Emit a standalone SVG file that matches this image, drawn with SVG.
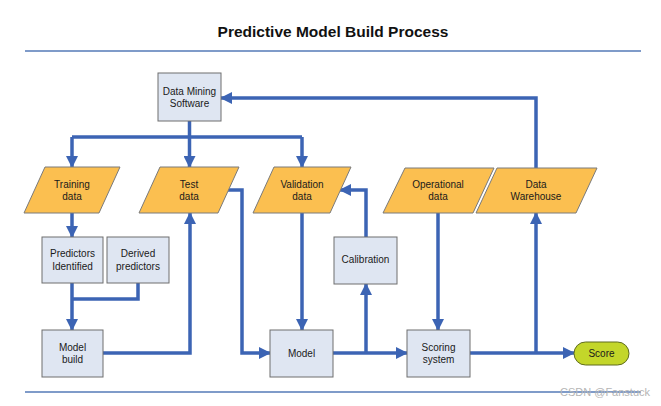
<svg xmlns="http://www.w3.org/2000/svg" width="661" height="406" viewBox="0 0 661 406">
  <defs>
    <style>
      .t{font-family:"Liberation Sans",Arial,sans-serif;font-size:10px;fill:#1a1a1a;text-anchor:middle}
      .title{font-family:"Liberation Sans",Arial,sans-serif;font-size:15.5px;font-weight:bold;fill:#111;text-anchor:middle}
      .box{fill:#dfe6f2;stroke:#6e6e6e;stroke-width:1}
      .para{fill:#fbbf50;stroke:#7a7a7a;stroke-width:1}
      .rule{stroke:#7f9bc9;stroke-width:2;fill:none}
      .c{fill:none;stroke:#3c64b4;stroke-width:3.5;stroke-linejoin:miter}
      .wm{font-family:"Liberation Sans",Arial,sans-serif;font-size:11px;fill:#b5b5b5}
    </style>
    <marker id="ah" markerUnits="userSpaceOnUse" markerWidth="12" markerHeight="12" viewBox="0 0 12 12" refX="11" refY="6" orient="auto">
      <path d="M0,0 L12,6 L0,12 Z" fill="#3c64b4"/>
    </marker>
  </defs>
  <rect width="661" height="406" fill="#ffffff"/>
  <text class="title" x="333" y="37">Predictive Model Build Process</text>
  <line class="rule" x1="25" y1="51" x2="641" y2="51"/>
  <line class="rule" x1="25" y1="392" x2="641" y2="392"/>

  <g id="connectors">
    <path class="c" d="M189.5,121 V137"/>
    <path class="c" d="M72,137 H302"/>
    <path class="c" d="M72,137 V167" marker-end="url(#ah)"/>
    <path class="c" d="M189.5,137 V167" marker-end="url(#ah)"/>
    <path class="c" d="M302,137 V167" marker-end="url(#ah)"/>
    <path class="c" d="M72,213 V237" marker-end="url(#ah)"/>
    <path class="c" d="M72,283 V330" marker-end="url(#ah)"/>
    <path class="c" d="M138,283 V299 H72"/>
    <path class="c" d="M103,353 H190 V213" marker-end="url(#ah)"/>
    <path class="c" d="M228,190 H242 V353 H270" marker-end="url(#ah)"/>
    <path class="c" d="M302,213 V330" marker-end="url(#ah)"/>
    <path class="c" d="M333,353 H407" marker-end="url(#ah)"/>
    <path class="c" d="M366,353 V284" marker-end="url(#ah)"/>
    <path class="c" d="M366,237 V190 H340" marker-end="url(#ah)"/>
    <path class="c" d="M438,213 V330" marker-end="url(#ah)"/>
    <path class="c" d="M470,353 H574" marker-end="url(#ah)"/>
    <path class="c" d="M536,353 V213" marker-end="url(#ah)"/>
    <path class="c" d="M536,168 V98 H221" marker-end="url(#ah)"/>
  </g>

  <g id="data-mining-software">
    <rect class="box" x="158" y="73" width="63" height="48"/>
    <text class="t" x="189.5" y="95">Data Mining</text>
    <text class="t" x="189.5" y="107">Software</text>
  </g>
  <g id="training-data">
    <polygon class="para" points="45,167 120,167 99,213 24,213"/>
    <text class="t" x="72" y="188">Training</text>
    <text class="t" x="72" y="200">data</text>
  </g>
  <g id="test-data">
    <polygon class="para" points="160,167 239,167 218,213 139,213"/>
    <text class="t" x="189" y="188">Test</text>
    <text class="t" x="189" y="200">data</text>
  </g>
  <g id="validation-data">
    <polygon class="para" points="274,167 351,167 330,213 253,213"/>
    <text class="t" x="302" y="188">Validation</text>
    <text class="t" x="302" y="200">data</text>
  </g>
  <g id="operational-data">
    <polygon class="para" points="405,168 494,168 473,213 383,213"/>
    <text class="t" x="438" y="188">Operational</text>
    <text class="t" x="438" y="200">data</text>
  </g>
  <g id="data-warehouse">
    <polygon class="para" points="497,168 597,168 576,213 476,213"/>
    <text class="t" x="536" y="188">Data</text>
    <text class="t" x="536" y="200">Warehouse</text>
  </g>
  <g id="predictors-identified">
    <rect class="box" x="42" y="237" width="61" height="46"/>
    <text class="t" x="72.5" y="257">Predictors</text>
    <text class="t" x="72.5" y="270">Identified</text>
  </g>
  <g id="derived-predictors">
    <rect class="box" x="107" y="237" width="62" height="46"/>
    <text class="t" x="138" y="257">Derived</text>
    <text class="t" x="138" y="270">predictors</text>
  </g>
  <g id="model-build">
    <rect class="box" x="42" y="330" width="61" height="47"/>
    <text class="t" x="72.5" y="351">Model</text>
    <text class="t" x="72.5" y="363">build</text>
  </g>
  <g id="model">
    <rect class="box" x="270" y="330" width="63" height="47"/>
    <text class="t" x="301.5" y="357">Model</text>
  </g>
  <g id="calibration">
    <rect class="box" x="334" y="237" width="63" height="47"/>
    <text class="t" x="365.5" y="263">Calibration</text>
  </g>
  <g id="scoring-system">
    <rect class="box" x="407" y="330" width="63" height="47"/>
    <text class="t" x="438.5" y="351">Scoring</text>
    <text class="t" x="438.5" y="363">system</text>
  </g>
  <g id="score">
    <rect x="574" y="342" width="55" height="23" rx="11.5" ry="11.5" fill="#c3d62a" stroke="#5f6b1f" stroke-width="1"/>
    <text class="t" x="601.5" y="357">Score</text>
  </g>
  <text class="wm" x="560" y="396">CSDN @Fanstuck</text>
</svg>
